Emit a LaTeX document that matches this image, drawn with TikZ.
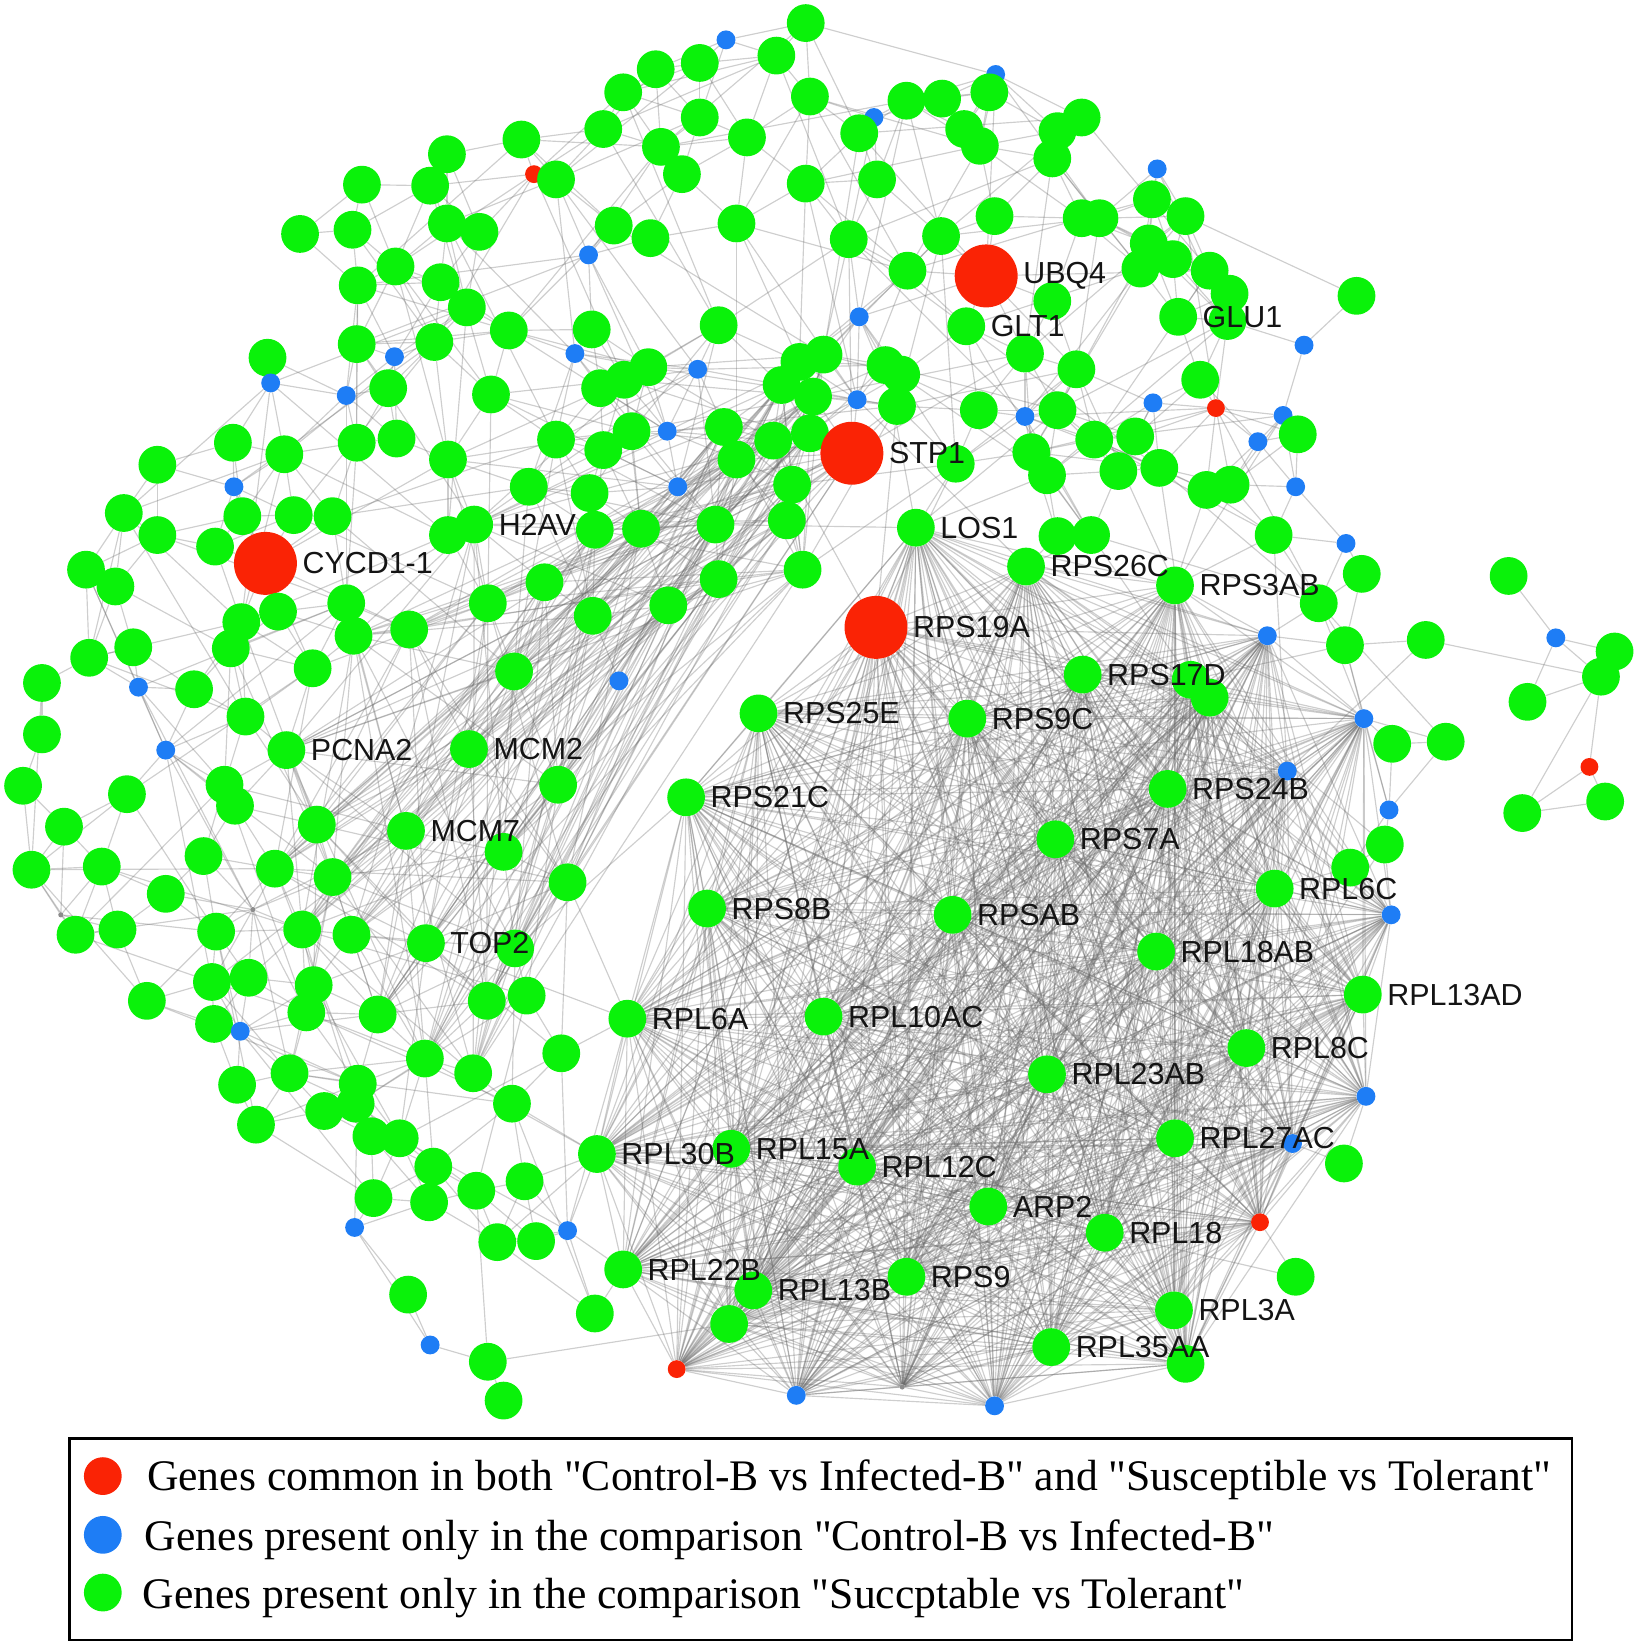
\documentclass[tikz,border=0pt]{standalone}
\usepackage{fontspec}
\setmainfont{Liberation Serif}
\newfontfamily\legfont{Liberation Serif}
\newfontfamily\lblfont{Liberation Sans}
\pgfdeclarelayer{bg}
\pgfdeclarelayer{fg}
\pgfsetlayers{bg,main,fg}
\definecolor{ngreen}{RGB}{10,242,10}
\definecolor{nblue}{RGB}{30,125,245}
\definecolor{nred}{RGB}{250,35,5}
\newcount\gnodecount
\newcount\eI \newcount\eJ \newcount\eD \newcount\eH \newcount\eQ
\newif\ifgdraw
\tikzset{
  ndg/.style={circle, fill=ngreen, minimum size=36pt, inner sep=0pt},
  ndb/.style={circle, fill=nblue, minimum size=18pt, inner sep=0pt},
  ndr/.style={circle, fill=nred, minimum size=17pt, inner sep=0pt},
  ndR/.style={circle, fill=nred, minimum size=60pt, inner sep=0pt},
  ndk/.style={circle, fill=black!45, minimum size=5pt, inner sep=0pt},
  lbl/.style={font=\lblfont\fontsize{29}{30}\selectfont, anchor=west, inner sep=0pt, text=black!92},
  edge/.style={draw=black!60, line width=1.1pt, opacity=0.32},
  legtext/.style={font=\legfont\fontsize{41.6}{44}\selectfont, anchor=base west, inner sep=0pt}
}
\newcommand\gN[5]{%
  \global\advance\gnodecount by 1
  \edef\gNtmp{\noexpand\node[nd#3] (n\the\gnodecount) at (#1,#2) {};}\gNtmp
  \expandafter\xdef\csname gx\the\gnodecount\endcsname{#1}%
  \expandafter\xdef\csname gy\the\gnodecount\endcsname{#2}%
  \expandafter\xdef\csname gg\the\gnodecount\endcsname{#4}%
  \if\relax\detokenize{#5}\relax\else
    \edef\gNtmp{\noexpand\node[lbl] (l\the\gnodecount) at ([xshift=5pt]n\the\gnodecount.east) {#5};}%
    \begin{pgfonlayer}{fg}\gNtmp\end{pgfonlayer}%
  \fi}
\newcommand\gEdge{\edef\gNtmp{\noexpand\draw[edge] (n\the\eI) -- (n\the\eJ);}\gNtmp}
\newcommand\gTest{%
  \edef\gvXa{\csname gx\the\eI\endcsname}\edef\gvYa{\csname gy\the\eI\endcsname}%
  \edef\gvXb{\csname gx\the\eJ\endcsname}\edef\gvYb{\csname gy\the\eJ\endcsname}%
  \edef\gvGa{\csname gg\the\eI\endcsname}\edef\gvGb{\csname gg\the\eJ\endcsname}%
  \eD=\numexpr(\gvXa-\gvXb)*(\gvXa-\gvXb)+(\gvYa-\gvYb)*(\gvYa-\gvYb)\relax
  \gdrawfalse
  \ifnum\eD<7200 \gdrawtrue\fi
  \eH=\numexpr\eI*37+\eJ*91+\eI*\eJ*13\relax
  \eQ=\eH \divide\eQ by 9 \multiply\eQ by 9 \advance\eH by -\eQ
  \ifnum\eD<57600 \ifnum\eH=0 \gdrawtrue\fi\fi
  \ifnum\numexpr\gvGa*\gvGb\relax=1 \gdrawtrue\fi
  \ifnum\numexpr\gvGa*\gvGb\relax=4
    \eH=\numexpr\eI*53+\eJ*29\relax
    \eQ=\eH \divide\eQ by 3 \multiply\eQ by 3 \advance\eH by -\eQ
    \ifnum\eH=0 \gdrawtrue\fi
  \fi
  \ifgdraw\gEdge\fi}
\def\gInner{%
  \ifnum\eJ>\gnodecount\else
    \gTest
    \advance\eJ by 1
    \expandafter\gInner
  \fi}
\def\gOuter{%
  \ifnum\eI<\gnodecount
    \eJ=\eI \advance\eJ by 1
    \gInner
    \advance\eI by 1
    \expandafter\gOuter
  \fi}
\begin{document}
\begin{tikzpicture}[x=1pt,y=-1pt]
\useasboundingbox (0,0) rectangle (1562,1568);
% ---- top / left network
\gN{768}{22}{g}{0}{}
\gN{692}{38}{b}{0}{}
\gN{740}{53}{g}{0}{}
\gN{667}{60}{g}{0}{}
\gN{625}{66}{g}{0}{}
\gN{594}{88}{g}{0}{}
\gN{949}{71}{b}{0}{}
\gN{943}{88}{g}{0}{}
\gN{772}{92}{g}{0}{}
\gN{864}{96}{g}{0}{}
\gN{898}{94}{g}{0}{}
\gN{833}{112}{b}{0}{}
\gN{667}{112}{g}{0}{}
\gN{712}{131}{g}{0}{}
\gN{575}{123}{g}{0}{}
\gN{630}{140}{g}{0}{}
\gN{650}{166}{g}{0}{}
\gN{768}{175}{g}{0}{}
\gN{497}{133}{g}{0}{}
\gN{426}{147}{g}{0}{}
\gN{509}{166}{r}{0}{}
\gN{530}{171}{g}{0}{}
\gN{345}{176}{g}{0}{}
\gN{410}{177}{g}{0}{}
\gN{585}{215}{g}{0}{}
\gN{620}{227}{g}{0}{}
\gN{702}{213}{g}{0}{}
\gN{561}{243}{b}{0}{}
\gN{286}{223}{g}{0}{}
\gN{336}{219}{g}{0}{}
\gN{426}{213}{g}{0}{}
\gN{457}{221}{g}{0}{}
\gN{377}{254}{g}{0}{}
\gN{341}{272}{g}{0}{}
\gN{420}{269}{g}{0}{}
\gN{445}{293}{g}{0}{}
\gN{485}{315}{g}{0}{}
\gN{564}{314}{g}{0}{}
\gN{685}{310}{g}{0}{}
\gN{548}{337}{b}{0}{}
\gN{376}{340}{b}{0}{}
\gN{414}{326}{g}{0}{}
\gN{340}{328}{g}{0}{}
\gN{255}{341}{g}{0}{}
\gN{258}{365}{b}{0}{}
\gN{330}{377}{b}{0}{}
\gN{370}{370}{g}{0}{}
\gN{468}{376}{g}{0}{}
\gN{665}{352}{b}{0}{}
\gN{572}{370}{g}{0}{}
\gN{595}{362}{g}{0}{}
\gN{618}{350}{g}{0}{}
\gN{222}{422}{g}{0}{}
\gN{271}{433}{g}{0}{}
\gN{340}{422}{g}{0}{}
\gN{378}{418}{g}{0}{}
\gN{427}{438}{g}{0}{}
\gN{530}{419}{g}{0}{}
\gN{575}{429}{g}{0}{}
\gN{602}{411}{g}{0}{}
\gN{636}{411}{b}{0}{}
\gN{690}{407}{g}{2}{}
\gN{702}{438}{g}{2}{}
\gN{737}{420}{g}{2}{}
\gN{150}{443}{g}{0}{}
\gN{223}{464}{b}{0}{}
\gN{504}{464}{g}{0}{}
\gN{562}{470}{g}{0}{}
\gN{646}{464}{b}{0}{}
\gN{755}{462}{g}{2}{}
\gN{750}{496}{g}{2}{}
\gN{118}{489}{g}{0}{}
\gN{150}{510}{g}{0}{}
\gN{231}{492}{g}{0}{}
\gN{280}{491}{g}{0}{}
\gN{317}{492}{g}{0}{}
\gN{205}{521}{g}{0}{}
\gN{253}{537}{R}{0}{CYCD1-1}
\gN{82}{543}{g}{0}{}
\gN{110}{559}{g}{0}{}
\gN{427}{510}{g}{0}{}
\gN{452}{500}{g}{2}{H2AV}
\gN{567}{505}{g}{2}{}
\gN{611}{504}{g}{2}{}
\gN{682}{500}{g}{2}{}
\gN{519}{555}{g}{2}{}
\gN{465}{575}{g}{2}{}
\gN{330}{575}{g}{0}{}
\gN{265}{583}{g}{0}{}
\gN{230}{593}{g}{0}{}
\gN{220}{618}{g}{0}{}
\gN{337}{606}{g}{2}{}
\gN{390}{600}{g}{2}{}
\gN{565}{587}{g}{2}{}
\gN{637}{577}{g}{2}{}
\gN{685}{552}{g}{2}{}
\gN{765}{543}{g}{2}{}
\gN{127}{617}{g}{0}{}
\gN{85}{627}{g}{0}{}
\gN{132}{655}{b}{0}{}
\gN{185}{657}{g}{0}{}
\gN{298}{637}{g}{0}{}
\gN{490}{640}{g}{2}{}
\gN{590}{649}{b}{0}{}
\gN{40}{651}{g}{0}{}
% ---- top right
\gN{819}{127}{g}{0}{}
\gN{919}{123}{g}{0}{}
\gN{934}{139}{g}{0}{}
\gN{1031}{112}{g}{0}{}
\gN{1008}{125}{g}{0}{}
\gN{1003}{151}{g}{0}{}
\gN{1103}{161}{b}{0}{}
\gN{836}{171}{g}{0}{}
\gN{809}{228}{g}{0}{}
\gN{897}{225}{g}{0}{}
\gN{948}{206}{g}{0}{}
\gN{1031}{208}{g}{0}{}
\gN{1048}{208}{g}{0}{}
\gN{1098}{190}{g}{0}{}
\gN{1130}{206}{g}{0}{}
\gN{1095}{232}{g}{0}{}
\gN{1118}{247}{g}{0}{}
\gN{1087}{256}{g}{0}{}
\gN{1153}{258}{g}{0}{}
\gN{1172}{280}{g}{0}{}
\gN{865}{258}{g}{0}{}
\gN{940}{263}{R}{0}{UBQ4}
\gN{1003}{287}{g}{0}{}
\gN{921}{311}{g}{0}{GLT1}
\gN{1170}{306}{g}{0}{}
\gN{1123}{302}{g}{0}{GLU1}
\gN{1293}{282}{g}{0}{}
\gN{819}{302}{b}{0}{}
\gN{1243}{329}{b}{0}{}
\gN{762}{345}{g}{0}{}
\gN{785}{338}{g}{0}{}
\gN{745}{367}{g}{2}{}
\gN{775}{378}{g}{2}{}
\gN{844}{348}{g}{0}{}
\gN{859}{357}{g}{0}{}
\gN{977}{337}{g}{0}{}
\gN{1026}{352}{g}{0}{}
\gN{1144}{362}{g}{0}{}
\gN{817}{381}{b}{0}{}
\gN{855}{387}{g}{0}{}
\gN{933}{391}{g}{0}{}
\gN{977}{397}{b}{0}{}
\gN{1008}{391}{g}{0}{}
\gN{1099}{384}{b}{0}{}
\gN{1159}{389}{r}{0}{}
\gN{1223}{396}{b}{0}{}
\gN{1237}{414}{g}{0}{}
\gN{1199}{421}{b}{0}{}
\gN{1043}{419}{g}{0}{}
\gN{1082}{416}{g}{0}{}
\gN{983}{431}{g}{0}{}
\gN{998}{453}{g}{0}{}
\gN{1066}{449}{g}{0}{}
\gN{1105}{446}{g}{0}{}
\gN{1150}{467}{g}{0}{}
\gN{1173}{462}{g}{0}{}
\gN{1235}{464}{b}{0}{}
\gN{911}{442}{g}{0}{}
\gN{772}{413}{g}{2}{}
\gN{812}{432}{R}{2}{STP1}
\gN{873}{503}{g}{1}{LOS1}
\gN{1008}{511}{g}{0}{}
\gN{1040}{510}{g}{0}{}
\gN{1214}{510}{g}{0}{}
\gN{1283}{518}{b}{0}{}
\gN{978}{540}{g}{1}{RPS26C}
\gN{1120}{558}{g}{1}{RPS3AB}
\gN{1298}{547}{g}{0}{}
\gN{1257}{575}{g}{0}{}
\gN{1438}{549}{g}{0}{}
\gN{1208}{606}{b}{1}{}
\gN{1282}{615}{g}{0}{}
\gN{1359}{610}{g}{0}{}
\gN{1483}{608}{b}{0}{}
\gN{1539}{621}{g}{0}{}
\gN{1526}{645}{g}{0}{}
\gN{1456}{669}{g}{0}{}
\gN{1135}{648}{g}{1}{}
\gN{1153}{665}{g}{1}{}
\gN{1032}{643}{g}{1}{RPS17D}
\gN{1300}{685}{b}{1}{}
\gN{835}{598}{R}{1}{RPS19A}
% ---- bottom left
\gN{40}{700}{g}{0}{}
\gN{234}{683}{g}{0}{}
\gN{158}{715}{b}{0}{}
\gN{273}{715}{g}{2}{PCNA2}
\gN{447}{714}{g}{2}{MCM2}
\gN{532}{748}{g}{2}{}
\gN{22}{749}{g}{0}{}
\gN{121}{757}{g}{0}{}
\gN{214}{748}{g}{0}{}
\gN{224}{768}{g}{0}{}
\gN{302}{786}{g}{2}{}
\gN{387}{792}{g}{2}{MCM7}
\gN{61}{788}{g}{0}{}
\gN{30}{829}{g}{0}{}
\gN{97}{826}{g}{0}{}
\gN{194}{816}{g}{0}{}
\gN{262}{828}{g}{2}{}
\gN{317}{836}{g}{2}{}
\gN{158}{852}{g}{0}{}
\gN{541}{841}{g}{2}{}
\gN{72}{891}{g}{0}{}
\gN{112}{886}{g}{0}{}
\gN{206}{888}{g}{0}{}
\gN{288}{886}{g}{2}{}
\gN{335}{891}{g}{2}{}
\gN{140}{954}{g}{0}{}
\gN{202}{936}{g}{0}{}
\gN{237}{932}{g}{0}{}
\gN{299}{939}{g}{0}{}
\gN{292}{965}{g}{0}{}
\gN{360}{967}{g}{2}{}
\gN{464}{954}{g}{2}{}
\gN{502}{949}{g}{0}{}
\gN{204}{976}{g}{0}{}
\gN{229}{983}{b}{0}{}
\gN{405}{1009}{g}{2}{}
\gN{451}{1023}{g}{2}{}
\gN{535}{1004}{g}{0}{}
\gN{276}{1023}{g}{0}{}
\gN{226}{1034}{g}{0}{}
\gN{341}{1033}{g}{0}{}
\gN{339}{1052}{g}{0}{}
\gN{309}{1059}{g}{0}{}
\gN{244}{1072}{g}{0}{}
\gN{488}{1052}{g}{0}{}
\gN{354}{1083}{g}{0}{}
\gN{381}{1085}{g}{0}{}
\gN{413}{1112}{g}{0}{}
\gN{409}{1146}{g}{0}{}
\gN{356}{1142}{g}{0}{}
\gN{454}{1135}{g}{0}{}
\gN{500}{1126}{g}{0}{}
\gN{338}{1170}{b}{0}{}
\gN{474}{1184}{g}{0}{}
\gN{511}{1183}{g}{0}{}
\gN{541}{1173}{b}{0}{}
\gN{567}{1252}{g}{0}{}
\gN{389}{1234}{g}{0}{}
\gN{410}{1282}{b}{0}{}
\gN{465}{1298}{g}{0}{}
\gN{480}{1335}{g}{0}{}
\gN{58}{872}{k}{0}{}
\gN{241}{867}{k}{0}{}
\gN{480}{812}{g}{2}{}
\gN{406}{899}{g}{2}{TOP2}
\gN{491}{904}{g}{2}{}
% ---- ribosomal cluster
\gN{645}{1305}{r}{1}{}
\gN{759}{1330}{b}{1}{}
\gN{695}{1262}{g}{1}{}
\gN{723}{680}{g}{1}{RPS25E}
\gN{922}{685}{g}{1}{RPS9C}
\gN{654}{760}{g}{1}{RPS21C}
\gN{674}{866}{g}{1}{RPS8B}
\gN{598}{971}{g}{1}{RPL6A}
\gN{569}{1100}{g}{1}{RPL30B}
\gN{697}{1095}{g}{1}{RPL15A}
\gN{594}{1210}{g}{1}{RPL22B}
\gN{718}{1230}{g}{1}{RPL13B}
\gN{1327}{709}{g}{0}{}
\gN{1378}{707}{g}{0}{}
\gN{1515}{731}{r}{0}{}
\gN{1530}{764}{g}{0}{}
\gN{1451}{775}{g}{0}{}
\gN{1227}{735}{b}{1}{}
\gN{1113}{752}{g}{1}{RPS24B}
\gN{1324}{772}{b}{0}{}
\gN{1320}{805}{g}{0}{}
\gN{1287}{827}{g}{0}{}
\gN{1006}{800}{g}{1}{RPS7A}
\gN{1215}{847}{g}{1}{RPL6C}
\gN{1326}{872}{b}{1}{}
\gN{908}{872}{g}{1}{RPSAB}
\gN{1102}{907}{g}{1}{RPL18AB}
\gN{1299}{948}{g}{1}{RPL13AD}
\gN{785}{969}{g}{1}{RPL10AC}
\gN{1188}{999}{g}{1}{RPL8C}
\gN{998}{1024}{g}{1}{RPL23AB}
\gN{1302}{1045}{b}{1}{}
\gN{1120}{1085}{g}{1}{RPL27AC}
\gN{1232}{1090}{b}{1}{}
\gN{1281}{1109}{g}{0}{}
\gN{817}{1112}{g}{1}{RPL12C}
\gN{942}{1150}{g}{1}{ARP2}
\gN{1053}{1175}{g}{1}{RPL18}
\gN{1201}{1165}{r}{1}{}
\gN{864}{1217}{g}{1}{RPS9}
\gN{1235}{1217}{g}{0}{}
\gN{1119}{1249}{g}{1}{RPL3A}
\gN{1130}{1300}{g}{1}{}
\gN{1002}{1284}{g}{1}{RPL35AA}
\gN{948}{1340}{b}{1}{}
\gN{860}{1322}{k}{1}{}
% ---- connectors
\begin{pgfonlayer}{bg}
\eI=1 \gOuter
\end{pgfonlayer}
% ---- legend
\node[draw=black, line width=2.2pt, minimum width=1432pt, minimum height=192pt, inner sep=0pt, anchor=north west] (legendbox) at (65,1370) {};
\node[circle, fill=nred, minimum size=36pt, inner sep=0pt] (key1) at (98,1407) {};
\node[circle, fill=nblue, minimum size=36pt, inner sep=0pt] (key2) at (98,1463) {};
\node[circle, fill=ngreen, minimum size=36pt, inner sep=0pt] (key3) at (98,1518) {};
\node[legtext] (leg1) at (140,1421) {Genes common in both "Control-B vs Infected-B" and "Susceptible vs Tolerant"};
\node[legtext] (leg2) at (138,1478) {Genes present only in the comparison "Control-B vs Infected-B"};
\node[legtext] (leg3) at (136,1533) {Genes present only in the comparison "Succptable vs Tolerant"};
\end{tikzpicture}
\end{document}
